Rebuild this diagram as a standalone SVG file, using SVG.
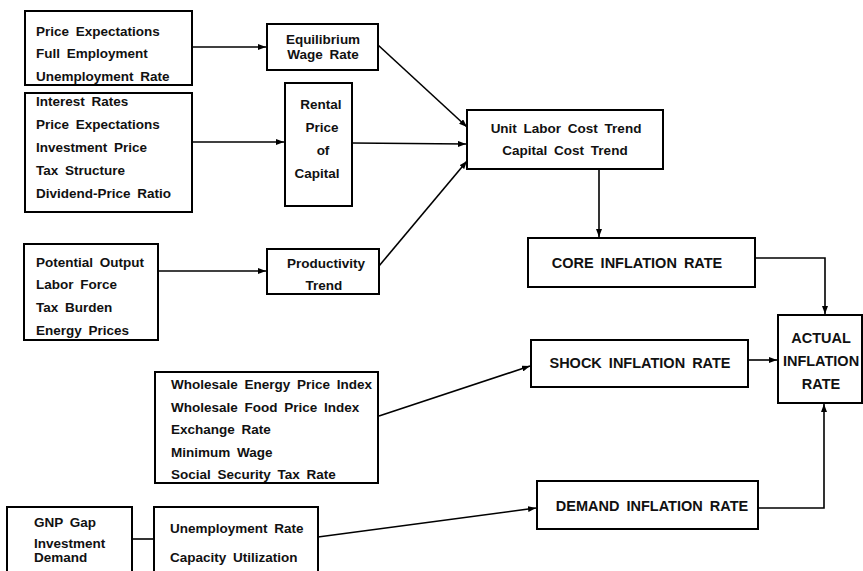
<svg xmlns="http://www.w3.org/2000/svg" width="863" height="571" viewBox="0 0 863 571">
<style>
.box{fill:#fff;stroke:#000;stroke-width:2}
.t{font-family:"Liberation Sans",Arial,sans-serif;font-weight:bold;font-size:13.5px;word-spacing:3px;fill:#111}
.c{text-anchor:middle}
.cap{font-size:14.5px}
.conn{fill:none;stroke:#000;stroke-width:1.6}
</style>
<defs>
<marker id="arr" markerWidth="8" markerHeight="6" refX="8" refY="3" orient="auto" markerUnits="userSpaceOnUse">
<path d="M0,0 L8,3 L0,6 z" fill="#000"/>
</marker>
</defs>
<rect width="863" height="571" fill="#fff"/>

<g id="connectors">
<line class="conn" x1="192" y1="47" x2="266" y2="47" marker-end="url(#arr)"/>
<line class="conn" x1="192" y1="142" x2="284" y2="142" marker-end="url(#arr)"/>
<line class="conn" x1="352" y1="143" x2="466" y2="144" marker-end="url(#arr)"/>
<line class="conn" x1="378" y1="45" x2="467" y2="127" marker-end="url(#arr)"/>
<line class="conn" x1="379" y1="266" x2="467" y2="161" marker-end="url(#arr)"/>
<line class="conn" x1="158" y1="271" x2="266" y2="271" marker-end="url(#arr)"/>
<line class="conn" x1="599" y1="169" x2="599" y2="237" marker-end="url(#arr)"/>
<polyline class="conn" points="755,258 825,258 825,314" marker-end="url(#arr)"/>
<line class="conn" x1="748" y1="360" x2="777" y2="360" marker-end="url(#arr)"/>
<line class="conn" x1="379" y1="416" x2="530" y2="366" marker-end="url(#arr)"/>
<polyline class="conn" points="758,508 824,508 824,404" marker-end="url(#arr)"/>
<line class="conn" x1="132" y1="539" x2="154" y2="539"/>
<line class="conn" x1="318" y1="537" x2="536" y2="508" marker-end="url(#arr)"/>
</g>

<g id="price-inputs">
<rect class="box" x="25" y="11" width="167" height="74"/>
<text class="t" x="36" y="36">Price Expectations</text>
<text class="t" x="36" y="58">Full Employment</text>
<text class="t" x="36" y="81">Unemployment Rate</text>
</g>

<g id="capital-inputs">
<rect class="box" x="25" y="93" width="167" height="119"/>
<text class="t" x="36" y="106">Interest Rates</text>
<text class="t" x="36" y="129">Price Expectations</text>
<text class="t" x="36" y="152">Investment Price</text>
<text class="t" x="36" y="175">Tax Structure</text>
<text class="t" x="36" y="198">Dividend-Price Ratio</text>
</g>

<g id="productivity-inputs">
<rect class="box" x="24" y="244" width="134" height="96"/>
<text class="t" x="36" y="267">Potential Output</text>
<text class="t" x="36" y="289">Labor Force</text>
<text class="t" x="36" y="312">Tax Burden</text>
<text class="t" x="36" y="335">Energy Prices</text>
</g>

<g id="equilibrium-wage">
<rect class="box" x="267" y="24" width="111" height="46"/>
<text class="t c" x="323" y="44">Equilibrium</text>
<text class="t c" x="323" y="59">Wage Rate</text>
</g>

<g id="rental-price">
<rect class="box" x="285" y="83" width="67" height="123"/>
<text class="t c" x="321" y="109">Rental</text>
<text class="t c" x="322" y="132">Price</text>
<text class="t c" x="323" y="155">of</text>
<text class="t c" x="317" y="178">Capital</text>
</g>

<g id="productivity-trend">
<rect class="box" x="267" y="249" width="112" height="45"/>
<text class="t c" x="326" y="268">Productivity</text>
<text class="t c" x="324" y="290">Trend</text>
</g>

<g id="cost-trend">
<rect class="box" x="467" y="110" width="196" height="59"/>
<text class="t c" x="566" y="133">Unit Labor Cost Trend</text>
<text class="t c" x="565" y="155">Capital Cost Trend</text>
</g>

<g id="core-inflation">
<rect class="box" x="528" y="238" width="227" height="49"/>
<text class="t c cap" x="637" y="268">CORE INFLATION RATE</text>
</g>

<g id="actual-inflation">
<rect class="box" x="778" y="315" width="84" height="88"/>
<text class="t c cap" x="821" y="343">ACTUAL</text>
<text class="t c cap" x="821" y="366">INFLATION</text>
<text class="t c cap" x="821" y="389">RATE</text>
</g>

<g id="shock-inflation">
<rect class="box" x="531" y="340" width="217" height="47"/>
<text class="t c cap" x="640" y="368">SHOCK INFLATION RATE</text>
</g>

<g id="shock-inputs">
<rect class="box" x="155" y="372" width="223" height="111"/>
<text class="t" x="171" y="389">Wholesale Energy Price Index</text>
<text class="t" x="171" y="412">Wholesale Food Price Index</text>
<text class="t" x="171" y="434">Exchange Rate</text>
<text class="t" x="171" y="457">Minimum Wage</text>
<text class="t" x="171" y="479">Social Security Tax Rate</text>
</g>

<g id="demand-inflation">
<rect class="box" x="537" y="481" width="221" height="48"/>
<text class="t c cap" x="652" y="511">DEMAND INFLATION RATE</text>
</g>

<g id="gnp-gap">
<rect class="box" x="7" y="507" width="125" height="80"/>
<text class="t" x="34" y="527">GNP Gap</text>
<text class="t" x="34" y="548">Investment</text>
<text class="t" x="34" y="562">Demand</text>
</g>

<g id="demand-inputs">
<rect class="box" x="154" y="507" width="164" height="80"/>
<text class="t" x="170" y="533">Unemployment Rate</text>
<text class="t" x="170" y="562">Capacity Utilization</text>
</g>
</svg>
